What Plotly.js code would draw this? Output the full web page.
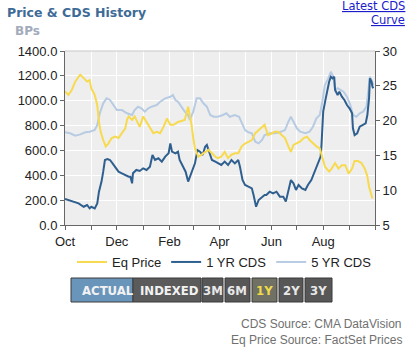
<!DOCTYPE html>
<html>
<head>
<meta charset="utf-8">
<script src="https://cdn.plot.ly/plotly-3.0.1.min.js"></script>
<style>
  html, body { margin: 0; padding: 0; background: #ffffff; }
  #chart { width: 412px; height: 351px; }
</style>
</head>
<body>
<div id="chart"></div>
<script>
// ---------- DATA ----------
// Day offsets are counted from the start date 2010-10-01.
const startDate = '2010-10-01';

const eqDays = [0,4,8,12,16,18,22,26,29,31,35,38,40,42,45,48,51,55,59,63,67,71,73,75,79,82,86,88,92,96,
  100,104,108,112,116,120,124,128,133,141,145,147,149,151,153,157,161,165,169,173,177,180,184,188,192,196,200,204,208,212,
  216,220,224,228,232,235,239,243,247,251,255,259,263,266,269,273,277,281,285,288,292,296,300,302,304,306,308,311,314,318,
  322,326,330,334,338,341,345,349,353,356,358,360,362];
const eqPrice = [24.2,23.7,24.4,25.6,26.3,26.6,26.1,25.6,25.8,24.6,23.7,22.2,19.8,18.4,17.2,16.3,16.7,17.5,17.7,17.5,
  18.2,18.9,20.1,20.6,20.1,20.6,19.6,19.1,20.6,19.8,18.9,18.2,18.4,18.2,19.1,20.3,19.4,19.4,19.8,20.1,
  22.0,20.8,19.4,17.5,16.0,14.8,15.1,15.5,15.8,15.3,14.8,14.6,14.8,15.5,14.6,15.1,15.3,15.3,16.3,16.7,
  17.0,17.2,18.2,18.6,19.1,19.4,17.9,18.2,18.4,18.4,17.9,17.5,16.3,15.5,16.5,16.7,17.0,17.5,17.7,17.2,
  16.7,16.3,16.0,15.1,14.3,13.4,13.1,12.7,13.1,13.9,13.1,13.6,13.6,12.4,13.1,14.2,14.2,13.9,13.1,12.0,
  10.5,9.8,8.8];

const cds1Days = [0,4,10,16,22,26,29,31,35,38,40,43,45,47,50,53,56,59,63,67,71,75,77,79,80,84,88,92,96,100,
  103,106,110,114,118,122,124,126,130,133,135,139,142,145,149,153,156,159,162,165,167,170,173,177,180,184,188,192,196,200,
  204,206,209,212,216,220,222,225,228,232,235,237,241,245,249,253,257,260,263,266,269,272,275,279,283,286,290,293,296,299,
  301,302,303,304,307,309,311,313,315,317,318,321,323,326,329,332,335,338,339,341,344,347,351,354,356,358,359,361,362,363];
const cds1Yr = [209,201,188,174,147,161,134,147,134,174,268,349,429,523,531,523,496,469,429,416,402,389,389,335,416,443,435,456,443,469,
  563,523,537,510,550,577,657,590,577,590,523,469,429,349,416,496,603,590,563,630,644,577,523,510,496,483,510,483,523,496,
  523,469,362,322,308,295,241,147,201,228,241,241,268,255,268,228,228,188,268,362,335,282,322,295,282,322,362,416,456,523,
  550,644,778,912,1019,1100,1153,1193,1180,1193,1086,1046,1073,1032,1006,965,939,899,778,724,738,791,805,818,885,1019,1180,1153,1113,1100];

const cds5Days = [0,6,12,18,24,29,35,38,41,45,49,53,57,61,67,73,79,82,86,90,94,98,102,108,112,118,124,127,130,133,
  137,141,145,147,151,155,159,163,167,171,175,180,186,190,194,200,205,208,212,216,220,224,228,232,235,241,247,253,259,263,
  266,269,273,277,283,288,292,296,300,303,306,310,313,316,318,321,324,328,332,336,339,343,347,351,355,358,359,361,363];
const cds5Yr = [746,738,719,729,746,751,765,805,899,979,1019,1006,965,925,925,899,885,925,952,939,912,939,952,965,992,1019,1032,1046,1006,992,
  952,912,885,845,912,1019,1019,979,952,885,871,871,885,899,871,885,871,818,764,746,738,670,657,684,724,738,738,746,764,831,
  871,831,778,751,738,751,791,858,885,992,1126,1180,1233,1193,1086,1100,1086,1073,1032,965,885,871,899,912,952,1100,1193,1166,1126];

const monthTicks = ['2010-10-01','2010-11-01','2010-12-01','2011-01-01','2011-02-01','2011-03-01','2011-04-01',
  '2011-05-01','2011-06-01','2011-07-01','2011-08-01','2011-09-01','2011-10-01'];
const monthLabels = ['Oct','','Dec','','Feb','','Apr','','Jun','','Aug','',''];
const leftTicks = [0,200,400,600,800,1000,1200,1400];
const rightTicks = [5,10,15,20,25,30];

const seriesNames = ['Eq Price','1 YR CDS','5 YR CDS'];
const buttonLabels = ['ACTUAL','INDEXED','3M','6M','1Y','2Y','3Y'];

// ---------- helpers ----------
const base = Date.parse(startDate + 'T00:00:00Z');
const toDate = d => new Date(base + d * 86400000).toISOString().slice(0, 10);

// plot area in pixels
const L = 65, R = 375, T = 51, B = 225, W = 412, H = 351;
const px = x => (x - L) / (R - L);
const py = y => (B - y) / (B - T);

const traces = [
  { x: cds5Days.map(toDate), y: cds5Yr, name: seriesNames[2], type: 'scatter', mode: 'lines',
    line: { color: '#b7cbe3', width: 2 }, yaxis: 'y', legendrank: 3, hoverinfo: 'skip' },
  { x: cds1Days.map(toDate), y: cds1Yr, name: seriesNames[1], type: 'scatter', mode: 'lines',
    line: { color: '#2f5f8f', width: 2 }, yaxis: 'y', legendrank: 2, hoverinfo: 'skip' },
  { x: eqDays.map(toDate), y: eqPrice, name: seriesNames[0], type: 'scatter', mode: 'lines',
    line: { color: '#f7da4f', width: 2 }, yaxis: 'y2', legendrank: 1, hoverinfo: 'skip' }
];

const tickFont = { family: 'Liberation Sans, Arial, sans-serif', size: 13, color: '#222222' };

const shapes = [
  // top border of plot
  { type: 'line', xref: 'paper', yref: 'paper', x0: 0, x1: 1, y0: 1, y1: 1, line: { color: '#c8c8c8', width: 1 } }
];
const annotations = [
  { text: '<b>Price &amp; CDS History</b>', xref: 'paper', yref: 'paper', x: px(5), y: py(12),
    xanchor: 'left', yanchor: 'middle', showarrow: false,
    font: { family: 'DejaVu Sans, Verdana, sans-serif', size: 12.5, color: '#3e6b96' } },
  { text: '<b>BPs</b>', xref: 'paper', yref: 'paper', x: px(13), y: py(31),
    xanchor: 'left', yanchor: 'middle', showarrow: false,
    font: { family: 'DejaVu Sans, Verdana, sans-serif', size: 12, color: '#a2abbb' } },
  { text: 'Latest CDS', xref: 'paper', yref: 'paper', x: px(407), y: py(6),
    xanchor: 'right', yanchor: 'middle', showarrow: false,
    font: { family: 'DejaVu Sans, Verdana, sans-serif', size: 11.5, color: '#1c1ccc', lineposition: 'under' } },
  { text: 'Curve', xref: 'paper', yref: 'paper', x: px(407), y: py(20),
    xanchor: 'right', yanchor: 'middle', showarrow: false,
    font: { family: 'DejaVu Sans, Verdana, sans-serif', size: 11.5, color: '#1c1ccc', lineposition: 'under' } },
  { text: 'CDS Source: CMA DataVision', xref: 'paper', yref: 'paper', x: px(404), y: py(324),
    xanchor: 'right', yanchor: 'middle', showarrow: false,
    font: { family: 'Liberation Sans, Arial, sans-serif', size: 12, color: '#707070' } },
  { text: 'Eq Price Source: FactSet Prices', xref: 'paper', yref: 'paper', x: px(404), y: py(340),
    xanchor: 'right', yanchor: 'middle', showarrow: false,
    font: { family: 'Liberation Sans, Arial, sans-serif', size: 12, color: '#707070' } }
];

// button bar (layout decoration)
const btns = [
  { x0: 71, x1: 133, fill: '#6a95bb', color: '#f2f2f2', tx: 108 },
  { x0: 133, x1: 201, fill: '#5b5b5b', color: '#f2f2f2', tx: 169 },
  { x0: 202, x1: 223, fill: '#575757', color: '#e8e8e8', tx: 212.5 },
  { x0: 225, x1: 250, fill: '#575757', color: '#e8e8e8', tx: 237.5 },
  { x0: 252, x1: 277, fill: '#707064', color: '#eedc4a', tx: 264.5 },
  { x0: 279, x1: 303, fill: '#575757', color: '#e8e8e8', tx: 291 },
  { x0: 305, x1: 332, fill: '#575757', color: '#e8e8e8', tx: 318.5 }
];
btns.forEach((b, i) => {
  shapes.push({ type: 'rect', xref: 'paper', yref: 'paper', x0: px(b.x0), x1: px(b.x1), y0: py(302), y1: py(278),
    fillcolor: b.fill, line: { color: '#3a3a3a', width: 1 }, layer: 'above' });
  annotations.push({ text: '<b>' + buttonLabels[i] + '</b>', xref: 'paper', yref: 'paper', x: px(b.tx), y: py(290),
    xanchor: 'center', yanchor: 'middle', showarrow: false,
    font: { family: 'Liberation Sans Narrow, DejaVu Sans Condensed, Arial Narrow, sans-serif', size: 13, color: b.color } });
});

const layout = {
  width: W, height: H,
  margin: { l: L, r: W - R, t: T, b: H - B, pad: 0 },
  paper_bgcolor: '#ffffff',
  plot_bgcolor: '#eeeeee',
  showlegend: true,
  legend: { orientation: 'h', x: px(72), xanchor: 'left', y: py(247), yanchor: 'top',
    font: { family: 'Liberation Sans, Arial, sans-serif', size: 13, color: '#222222' },
    bgcolor: 'rgba(0,0,0,0)', itemwidth: 30, tracegroupgap: 0 },
  xaxis: {
    type: 'date', range: [monthTicks[0], monthTicks[monthTicks.length - 1]],
    tickmode: 'array', tickvals: monthTicks, ticktext: monthLabels,
    showgrid: true, gridcolor: '#ffffff', gridwidth: 1,
    ticks: 'outside', ticklen: 4, tickcolor: '#666666', tickwidth: 1,
    showline: true, linecolor: '#666666', linewidth: 1,
    tickfont: tickFont, zeroline: false, fixedrange: true
  },
  yaxis: {
    range: [0, 1400], tickmode: 'array', tickvals: leftTicks, tickformat: '.1f',
    showgrid: true, gridcolor: '#ffffff', gridwidth: 1,
    ticks: 'outside', ticklen: 4, tickcolor: '#666666',
    showline: true, linecolor: '#666666', linewidth: 1,
    tickfont: tickFont, zeroline: false, fixedrange: true
  },
  yaxis2: {
    range: [5, 30], tickmode: 'array', tickvals: rightTicks,
    overlaying: 'y', side: 'right', showgrid: false,
    ticks: 'outside', ticklen: 4, tickcolor: '#666666',
    showline: true, linecolor: '#666666', linewidth: 1,
    tickfont: tickFont, zeroline: false, fixedrange: true
  },
  shapes: shapes,
  annotations: annotations
};

Plotly.newPlot('chart', traces, layout, { displayModeBar: false, staticPlot: true });
</script>
</body>
</html>
